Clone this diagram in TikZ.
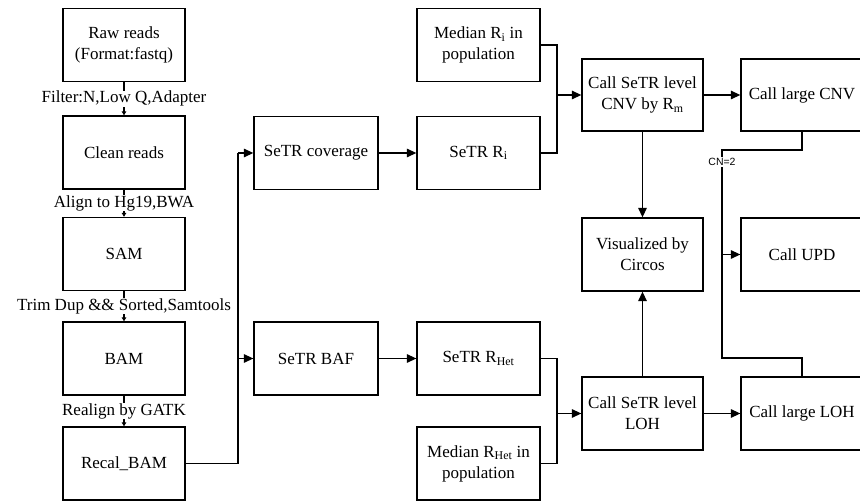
\documentclass[tikz,border=0pt]{standalone}
\usepackage{fontspec}
\setmainfont{Liberation Serif}
\newfontfamily\cnfont{Liberation Sans}
\usetikzlibrary{arrows.meta}
\tikzset{
  x=1pt, y=-1pt,
  box/.style={draw, line width=1.3pt, minimum width=122pt, minimum height=73pt, inner sep=2pt, align=center, font=\fontsize{17}{21}\selectfont},
  ln/.style={line width=1.3pt},
  arr/.style={ln, -{Triangle[length=9.5pt,width=8.5pt]}},
  sarr/.style={ln, -{Triangle[length=4pt,width=4.5pt]}},
  lbl/.style={fill=white, inner sep=0.5pt, font=\fontsize{17}{21}\selectfont},
  cnlbl/.style={fill=white, inner xsep=0.5pt, inner ysep=1pt, font=\cnfont\fontsize{10.5}{12}\selectfont}
}
\begin{document}
\begin{tikzpicture}
\useasboundingbox (0,0) rectangle (860,502);
\clip (0,0) rectangle (860,502);
% left column
\node[box] (raw) at (124,45) {Raw reads\\(Format:fastq)};
\node[box] (clean) at (124,152.5) {Clean reads};
\node[box] (sam) at (124,254) {SAM};
\node[box] (bam) at (124,358.5) {BAM};
\node[box] (recal) at (124,463.5) {Recal\_BAM};
% middle
\node[box, minimum width=124pt] (cov) at (316,153) {SeTR coverage};
\node[box, minimum width=124pt] (baf) at (316,358.5) {SeTR BAF};
\node[box, minimum width=123pt] (mri) at (478.5,45) {Median R\textsubscript{i} in\\population};
\node[box, minimum width=123pt] (sri) at (478.5,153) {SeTR R\textsubscript{i}};
\node[box, minimum width=123pt] (rhet) at (478.5,358.5) {SeTR R\textsubscript{Het}};
\node[box, minimum width=123pt] (mrhet) at (478.5,463.5) {Median R\textsubscript{Het} in\\population};
% right
\node[box, minimum width=121pt, minimum height=72pt] (ccnv) at (642.5,95) {Call SeTR level\\CNV by R\textsubscript{m}};
\node[box, minimum width=121pt] (vis) at (642.5,254.5) {Visualized by\\Circos};
\node[box, minimum width=121pt] (closs) at (642.5,413.5) {Call SeTR level\\LOH};
\node[box, minimum height=72pt] (lcnv) at (802,95) {Call large CNV};
\node[box] (upd) at (802,254.5) {Call UPD};
\node[box] (lloh) at (802,413.5) {Call large LOH};
% left column connectors
\draw[sarr] (raw) -- node[lbl]{Filter:N,Low Q,Adapter} (clean);
\draw[sarr] (clean) -- node[lbl]{Align to Hg19,BWA} (sam);
\draw[sarr] (sam) -- node[lbl]{Trim Dup \&\& Sorted,Samtools} (bam);
\draw[sarr] (bam) -- node[lbl]{Realign by GATK} (recal);
% recal to middle
\coordinate (jl1) at (238,153);
\coordinate (jl2) at (238,358.5);
\draw[ln] (recal.east) -| (jl1);
\draw[arr] (jl1) -- (cov.west);
\draw[arr] (jl2) -- (baf.west);
\draw[arr] (cov) -- (sri);
\draw[arr] (baf) -- (rhet);
% joins
\coordinate (jt) at (557,95);
\coordinate (jb) at (557,413.5);
\draw[ln] (mri.east) -| (jt) |- (sri.east);
\draw[arr] (jt) -- (ccnv.west);
\draw[ln] (rhet.east) -| (jb) |- (mrhet.east);
\draw[arr] (jb) -- (closs.west);
% right connectors
\draw[arr] (ccnv) -- (vis);
\draw[arr] (closs) -- (vis);
\draw[arr] (ccnv) -- (lcnv);
\draw[arr] (closs) -- (lloh);
\coordinate (c1) at (722,150);
\coordinate (c2) at (722,358);
\coordinate (c3) at (722,254.5);
\draw[ln] (lcnv.south) |- (c1) -- (c2) -| (lloh.north);
\draw[arr] (c3) -- (upd.west);
\node[cnlbl] (cn) at (722,162) {CN=2};
\end{tikzpicture}
\end{document}
